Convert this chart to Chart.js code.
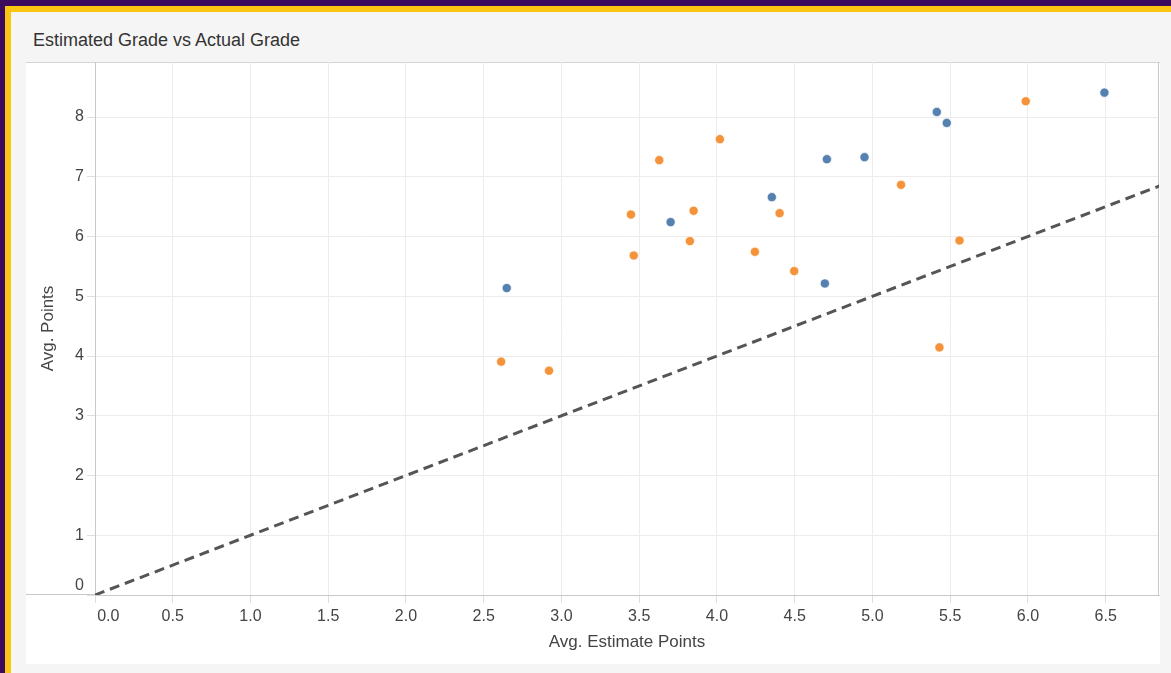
<!DOCTYPE html>
<html>
<head>
<meta charset="utf-8">
<script src="https://cdn.jsdelivr.net/npm/chart.js@4/dist/chart.umd.min.js"></script>
<style>
html,body{margin:0;padding:0;}
body{width:1171px;height:673px;background:#3c0b5e;position:relative;overflow:hidden;font-family:"Liberation Sans",Arial,sans-serif;}
#gold{position:absolute;left:5px;top:6px;width:1200px;height:700px;background:#fbc612;}
#panel{position:absolute;left:11px;top:12px;width:1200px;height:700px;background:#f5f5f5;}
#card{position:absolute;left:26px;top:62px;width:1134px;height:602px;background:#fff;border-top:1px solid #d4d4d4;box-sizing:border-box;}
#title{position:absolute;left:33px;top:30px;font-size:18px;line-height:20px;color:#333;white-space:nowrap;}
#chartBox{position:absolute;left:0;top:0;width:1171px;height:673px;}
</style>
</head>
<body>
<div id="gold"></div>
<div id="panel"></div>
<div id="card"></div>
<div id="title">Estimated Grade vs Actual Grade</div>
<div id="chartBox"><canvas id="c" width="1171" height="673"></canvas></div>
<script>
// ---- data ----
const blueX = [2.648, 3.702, 4.353, 4.707, 4.949, 4.694, 5.414, 5.478, 6.492];
const blueY = [5.137, 6.241, 6.659, 7.294, 7.328, 5.214, 8.085, 7.901, 8.408];
const orangeX = [2.612, 2.920, 3.447, 3.465, 3.629, 3.826, 3.850, 4.019, 4.244, 4.403, 4.497, 5.184, 5.431, 5.560, 5.986];
const orangeY = [3.905, 3.754, 6.368, 5.682, 7.278, 5.923, 6.430, 7.629, 5.744, 6.391, 5.421, 6.865, 4.144, 5.933, 8.264];
const refLine = [0, 10];           // y = x reference line
const xTicks = [0, 0.5, 1, 1.5, 2, 2.5, 3, 3.5, 4, 4.5, 5, 5.5, 6, 6.5];
const yTicks = [0, 1, 2, 3, 4, 5, 6, 7, 8];
const xRange = [0, 6.843];
const yRange = [0, 8.921];

const toPts = (xs, ys) => xs.map((x, i) => ({x: x, y: ys[i]}));

const frame = {
  id: 'frame',
  beforeDatasetsDraw(chart) {
    const {ctx, chartArea: a} = chart;
    ctx.save();
    ctx.strokeStyle = '#c9c9c9';
    ctx.lineWidth = 1;
    ctx.beginPath();
    ctx.moveTo(26, a.bottom - 0.5);
    ctx.lineTo(a.left, a.bottom - 0.5);
    ctx.moveTo(a.right - 0.5, a.top);
    ctx.lineTo(a.right - 0.5, a.bottom);
    ctx.stroke();
    ctx.restore();
  }
};

const FONT = '"Liberation Sans", Arial, sans-serif';
const PAD = '\u00a0\u00a0\u00a0\u00a0\u00a0\u00a0';

new Chart(document.getElementById('c'), {
  type: 'scatter',
  data: {
    datasets: [
      {
        type: 'line',
        label: 'y = x',
        data: refLine.map(v => ({x: v, y: v})),
        borderColor: '#555555',
        borderWidth: 3,
        borderDash: [10, 6],
        pointRadius: 0,
        fill: false,
        order: 3
      },
      {
        label: 'Orange',
        data: toPts(orangeX, orangeY),
        backgroundColor: '#f4933a',
        borderColor: 'rgba(255,255,255,0.85)',
        borderWidth: 0.8,
        pointRadius: 4.6,
        order: 2
      },
      {
        label: 'Blue',
        data: toPts(blueX, blueY),
        backgroundColor: '#5481b0',
        borderColor: 'rgba(255,255,255,0.85)',
        borderWidth: 0.8,
        pointRadius: 4.6,
        order: 1
      }
    ]
  },
  options: {
    responsive: false,
    animation: false,
    layout: {padding: {left: 26, top: 62, right: 12, bottom: 9}},
    plugins: {legend: {display: false}, tooltip: {enabled: false}, title: {display: false}},
    scales: {
      x: {
        type: 'linear',
        min: xRange[0],
        max: xRange[1],
        afterFit(s) { s.height = 69; },
        afterBuildTicks(s) { s.ticks = xTicks.map(v => ({value: v})); },
        ticks: {
          includeBounds: false,
          maxRotation: 0,
          autoSkip: false,
          padding: 4,
          color: '#444',
          font: {family: FONT, size: 16},
          callback: v => (v === xRange[0] ? PAD : '') + Number(v).toFixed(1)
        },
        grid: {color: '#ececec', tickColor: '#dedede', tickLength: 8, lineWidth: 1},
        border: {color: '#c9c9c9', width: 1},
        title: {
          display: true,
          text: 'Avg. Estimate Points',
          color: '#444',
          font: {family: FONT, size: 17},
          padding: {top: 4, bottom: 11}
        }
      },
      y: {
        type: 'linear',
        min: yRange[0],
        max: yRange[1],
        afterFit(s) { s.width = 69; },
        afterBuildTicks(s) { s.ticks = yTicks.map(v => ({value: v})); },
        ticks: {
          includeBounds: false,
          autoSkip: false,
          padding: 3,
          color: '#444',
          font: {family: FONT, size: 16},
          callback: v => (v === yRange[0] ? [String(v), ''] : String(v))
        },
        grid: {color: '#ececec', tickColor: '#dedede', tickLength: 8, lineWidth: 1},
        border: {color: '#c9c9c9', width: 1},
        title: {
          display: true,
          text: 'Avg. Points',
          color: '#444',
          font: {family: FONT, size: 17},
          padding: {top: 12, bottom: 4}
        }
      }
    }
  },
  plugins: [frame]
});
</script>
</body>
</html>
